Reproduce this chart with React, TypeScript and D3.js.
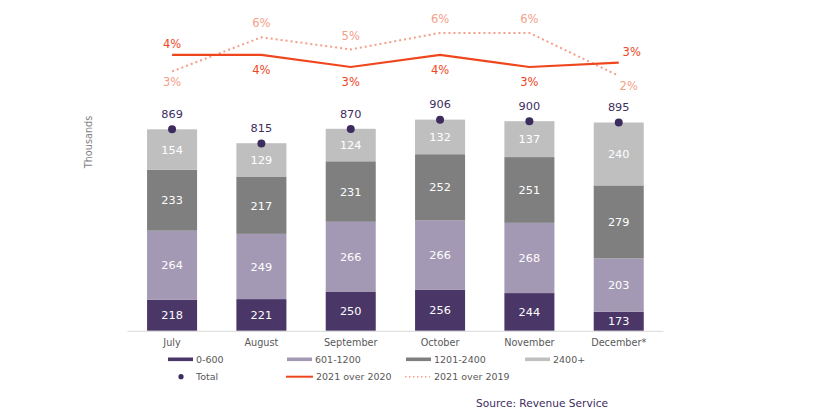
import React from "react";
import * as d3 from "d3";

const months = ["July", "August", "September", "October", "November", "December*"];
const band0to600 = [218, 221, 250, 256, 244, 173];
const band601to1200 = [264, 249, 266, 266, 268, 203];
const band1201to2400 = [233, 217, 231, 252, 251, 279];
const band2400plus = [154, 129, 124, 132, 137, 240];
const totals = [869, 815, 870, 906, 900, 895];
const over2020 = [0.041, 0.041, 0.030, 0.041, 0.030, 0.034];
const over2019 = [0.026, 0.057, 0.046, 0.061, 0.061, 0.022];
const bandNames = ["0-600", "601-1200", "1201-2400", "2400+"];

const W = 832;
const H = 416;
const FONT = "'DejaVu Sans', Verdana, sans-serif";
const bandColors = ["#4a3768", "#a499b4", "#7f7f7f", "#bfbfbf"];
const purple = "#3d2c5e";
const solidColor = "#f0461e";
const dotColor = "#f59e88";

export default function App() {
  const x = d3.scaleBand<string>().domain(months).range([127.4, 663.4]).paddingInner(0.44).paddingOuter(0.22);
  const y = d3.scaleLinear().domain([100, 1000]).range([330.8, 330.8 - 900 * 0.262]);
  const yp = d3.scaleLinear().domain([0, 0.07]).range([100, 23]);
  const fmtPct = d3.format(".0%");

  const bands = [band0to600, band601to1200, band1201to2400, band2400plus];
  const stackData = months.map((m, i) => ({
    month: m,
    b0: band0to600[i],
    b1: band601to1200[i],
    b2: band1201to2400[i],
    b3: band2400plus[i],
  }));
  const stack = d3.stack<any>().keys(["b0", "b1", "b2", "b3"]);
  const series = stack(stackData);

  const cx = (m: string) => (x(m) as number) + x.bandwidth() / 2;
  const line = d3
    .line<number>()
    .x((_, i) => cx(months[i]))
    .y((d) => yp(d));

  const bw = x.bandwidth();
  const last = months.length - 1;

  return (
    <svg
      width={W}
      height={H}
      style={{ position: "absolute", left: 0, top: 0, background: "#fff" }}
      fontFamily={FONT}
    >
      {/* y axis title */}
      <text
        transform={`translate(92,142) rotate(-90)`}
        textAnchor="middle"
        fontSize={9.7}
        fill="#7f7f7f"
      >
        Thousands
      </text>

      {/* bars */}
      {series.map((s, si) => (
        <g key={si}>
          {s.map((d, i) => {
            const y0 = y(Math.max(d[0], 100));
            const y1 = y(d[1]);
            return (
              <g key={i}>
                <rect x={x(months[i])} y={y1} width={bw} height={y0 - y1} fill={bandColors[si]} />
                <text
                  x={cx(months[i])}
                  y={(y0 + y1) / 2}
                  dy="0.36em"
                  textAnchor="middle"
                  fontSize={11.3}
                  fill="#ffffff"
                >
                  {bands[si][i]}
                </text>
              </g>
            );
          })}
        </g>
      ))}

      {/* axis line */}
      <line x1={127.4} x2={663.4} y1={331.3} y2={331.3} stroke="#d9d9d9" strokeWidth={1} />
      {months.map((m) => (
        <text key={m} x={cx(m)} y={346} textAnchor="middle" fontSize={9.7} fill="#595959">
          {m}
        </text>
      ))}

      {/* totals */}
      {totals.map((t, i) => (
        <g key={i}>
          <circle cx={cx(months[i])} cy={y(t)} r={4} fill={purple} />
          <text x={cx(months[i])} y={y(t) - 11.5} textAnchor="middle" fontSize={11.3} fill={purple}>
            {t}
          </text>
        </g>
      ))}

      {/* percentage lines */}
      <path d={line(over2019) || ""} fill="none" stroke={dotColor} strokeWidth={2} strokeDasharray="2,3" />
      <path d={line(over2020) || ""} fill="none" stroke={solidColor} strokeWidth={2.2} />

      {over2020.map((v, i) => {
        const above = yp(v) < yp(over2019[i]);
        const px = i === last ? cx(months[i]) + 13 : cx(months[i]);
        const py = yp(v) + (above ? -11 : 14.5);
        return (
          <text key={i} x={px} y={py} dy="0.36em" textAnchor="middle" fontSize={11.5} fill={solidColor}>
            {fmtPct(v)}
          </text>
        );
      })}
      {over2019.map((v, i) => {
        const above = yp(v) < yp(over2020[i]);
        const px = i === last ? cx(months[i]) + 10 : cx(months[i]);
        const py = yp(v) + (above ? -14 : 10.5);
        return (
          <text key={i} x={px} y={py} dy="0.36em" textAnchor="middle" fontSize={11.5} fill={dotColor}>
            {fmtPct(v)}
          </text>
        );
      })}

      {/* legend */}
      {bandNames.map((n, i) => (
        <g key={n} transform={`translate(${168 + i * 119},359.3)`}>
          <rect x={0} y={-1.8} width={25} height={3.6} fill={bandColors[i]} />
          <text x={28} y={0} dy="0.36em" fontSize={9.5} fill="#595959">
            {n}
          </text>
        </g>
      ))}
      <g transform="translate(168,376.7)">
        <circle cx={13} cy={0} r={2.6} fill={purple} />
        <text x={28} y={0} dy="0.36em" fontSize={9.5} fill="#595959">
          Total
        </text>
      </g>
      <g transform="translate(286,376.7)">
        <line x1={0} x2={27} y1={0} y2={0} stroke={solidColor} strokeWidth={2} />
        <text x={30} y={0} dy="0.36em" fontSize={9.5} fill="#595959">
          2021 over 2020
        </text>
      </g>
      <g transform="translate(405,376.7)">
        <line x1={0} x2={25} y1={0} y2={0} stroke={dotColor} strokeWidth={1.5} strokeDasharray="1.5,2.5" />
        <text x={29} y={0} dy="0.36em" fontSize={9.5} fill="#595959">
          2021 over 2019
        </text>
      </g>

      <text x={608} y={407} textAnchor="end" fontSize={10.6} fill={purple}>
        Source: Revenue Service
      </text>
    </svg>
  );
}
